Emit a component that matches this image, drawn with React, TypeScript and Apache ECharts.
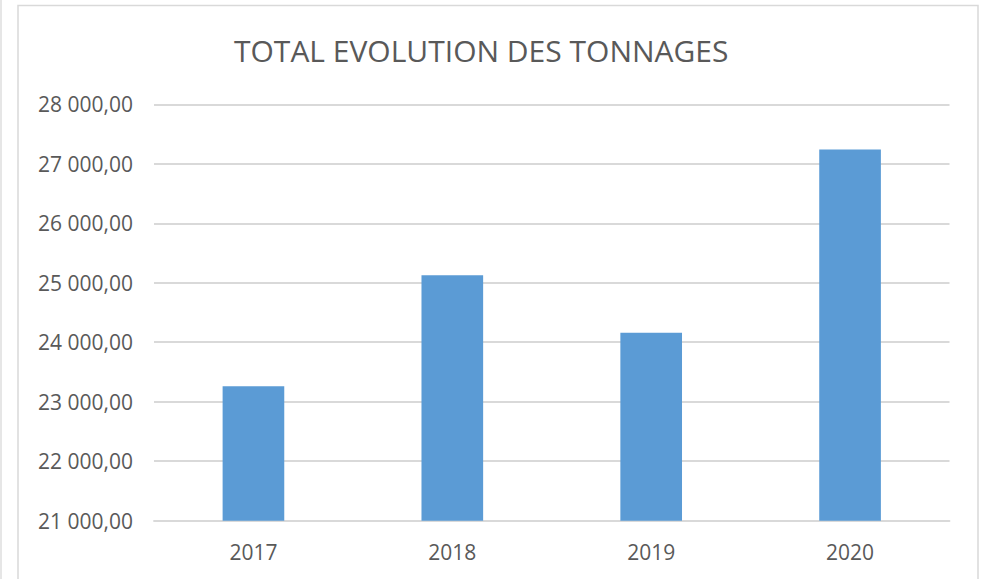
import React, { useEffect, useRef } from "react";
import * as echarts from "echarts";

const categories = ["2017", "2018", "2019", "2020"];
const tonnages = [23260, 25125, 24160, 27240];
const yMin = 21000;
const yMax = 28000;
const yStep = 1000;
const titleText = "TOTAL EVOLUTION DES TONNAGES";

function formatValue(v: number): string {
  const fixed = v.toFixed(2);
  const [intPart, dec] = fixed.split(".");
  const grouped = intPart.replace(/\B(?=(\d{3})+(?!\d))/g, " ");
  return grouped + "," + dec;
}

export default function App() {
  const ref = useRef<HTMLDivElement>(null);
  useEffect(() => {
    document.body.style.margin = "0";
    if (!ref.current) return;
    const chart = echarts.init(ref.current, null, { renderer: "svg" });
    const font = "'Open Sans', 'Liberation Sans', sans-serif";
    chart.setOption({
      animation: false,
      backgroundColor: "#ffffff",
      title: {
        text: titleText,
        left: 229,
        top: 30,
        textStyle: {
          fontFamily: font,
          fontSize: 30,
          fontWeight: "normal",
          color: "#595959",
        },
      },
      graphic: [
        {
          type: "rect",
          shape: { x: 18, y: 5.5, width: 960, height: 600 },
          style: { fill: "none", stroke: "#d9d9d9", lineWidth: 1.5 },
          silent: true,
        },
        {
          type: "line",
          shape: { x1: 1, y1: 0, x2: 1, y2: 579 },
          style: { stroke: "#e6e6e6", lineWidth: 2 },
          silent: true,
        },
      ],
      grid: {
        left: 154,
        right: 32.5,
        top: 104.3,
        bottom: 579 - 520.7,
        containLabel: false,
      },
      xAxis: {
        type: "category",
        data: categories,
        axisLine: { show: true, lineStyle: { color: "#d9d9d9", width: 1.8 } },
        axisTick: { show: false },
        axisLabel: {
          color: "#595959",
          fontFamily: font,
          fontSize: 21,
          margin: 21,
        },
      },
      yAxis: {
        type: "value",
        min: yMin,
        max: yMax,
        interval: yStep,
        axisLine: { show: false },
        axisTick: { show: false },
        splitLine: { lineStyle: { color: "#d9d9d9", width: 1.8 } },
        axisLabel: {
          color: "#595959",
          fontFamily: font,
          fontSize: 21,
          margin: 21,
          formatter: (v: number) => formatValue(v),
        },
      },
      series: [
        {
          type: "bar",
          data: tonnages,
          barWidth: "31%",
          itemStyle: { color: "#5b9bd5" },
        },
      ],
    });
    return () => chart.dispose();
  }, []);
  return <div ref={ref} style={{ width: 982, height: 579 }} />;
}
